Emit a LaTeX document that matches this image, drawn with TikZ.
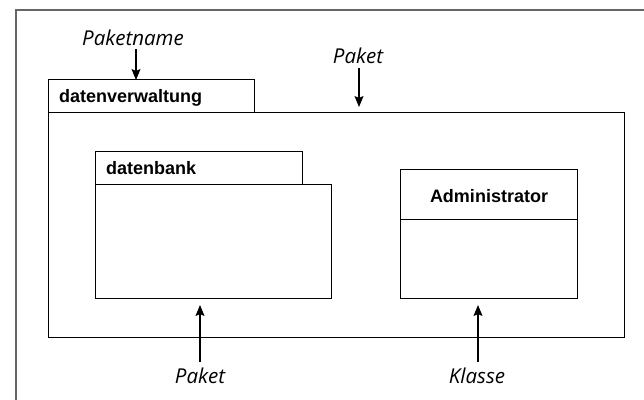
\documentclass[tikz,border=0pt]{standalone}
\usepackage{fontspec}
\setmainfont{Liberation Sans}
\newfontfamily\labelfont{Open Sans}
\usetikzlibrary{arrows.meta}
\tikzset{
  box/.style={draw=black, line width=1pt, inner sep=0pt, anchor=north west},
  frameline/.style={draw=black!60, line width=1.5pt},
  title/.style={font=\fontsize{18}{21}\selectfont\bfseries, inner sep=0pt},
  lbl/.style={font=\labelfont\itshape\fontsize{20.5}{24}\selectfont, inner sep=0pt, anchor=base},
  pointer/.style={draw=black, line width=1.2pt, -{Stealth[length=11pt,width=9pt,inset=2pt]}}
}
\begin{document}
\begin{tikzpicture}[x=1pt,y=-1pt]
\useasboundingbox (0,0) rectangle (644,399);
\draw[frameline] (645,10) -- (16,10) -- (16,400);
% outer package
\node[box, minimum width=206pt, minimum height=33pt] (tab1) at (48,79) {};
\node[box, minimum width=576pt, minimum height=225pt] (body1) at (48,112) {};
\node[title, anchor=base west] (t1) at (59,102) {datenverwaltung};
% inner package
\node[box, minimum width=207pt, minimum height=33pt] (tab2) at (95,151) {};
\node[box, minimum width=236pt, minimum height=114pt] (body2) at (95,184) {};
\node[title, anchor=base west] (t2) at (106,174) {datenbank};
% class
\node[box, minimum width=177pt, minimum height=129pt] (cls) at (400,169) {};
\draw[line width=1pt] (cls.west |- 0,219) coordinate (dl) -- (cls.east |- 0,219) coordinate (dr);
\node[title, anchor=base] (t3) at (cls.north |- 0,202) {Administrator};
% labels
\node[lbl] (l1) at (133,45) {Paketname};
\node[lbl] (l2) at (358,63) {Paket};
\node[lbl] (l3) at (200,383) {Paket};
\node[lbl] (l4) at (477,383) {Klasse};
\coordinate (p1) at (136,80);
\coordinate (p2) at (359,107);
\coordinate (p3) at (200,305);
\coordinate (p4) at (478,305);
\draw[pointer] (136,49) -- (p1);
\draw[pointer] (359,68) -- (p2);
\draw[pointer] (200,362) -- (p3);
\draw[pointer] (478,362) -- (p4);
\end{tikzpicture}
\end{document}
